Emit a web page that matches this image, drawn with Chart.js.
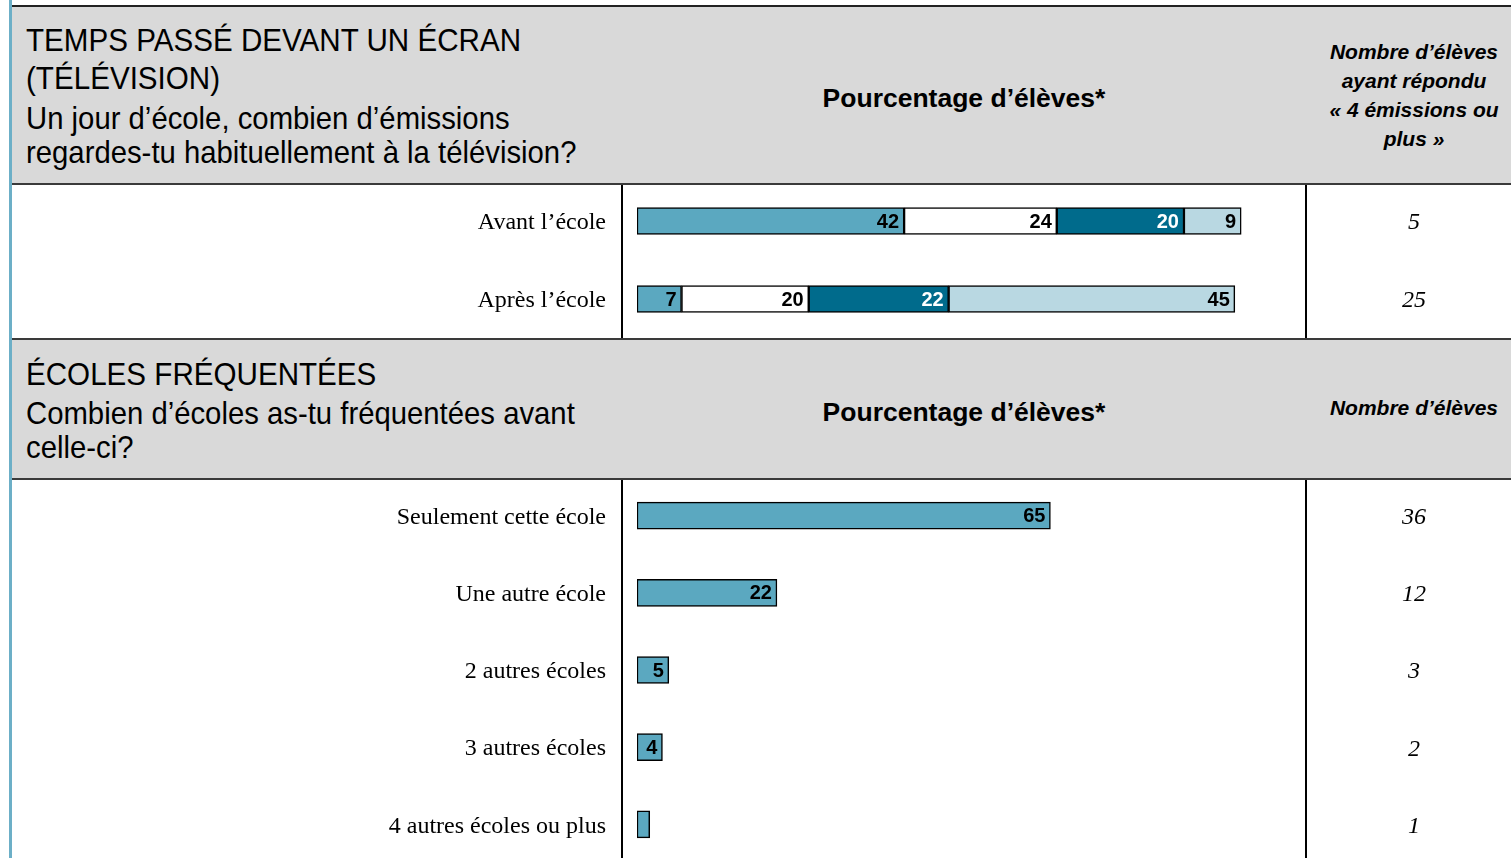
<!DOCTYPE html>
<html lang="fr">
<head>
<meta charset="utf-8">
<title>Temps passé devant un écran / écoles fréquentées</title>
<script src="https://cdn.jsdelivr.net/npm/chart.js@4/dist/chart.umd.min.js"></script>
<style>
  html, body { margin: 0; padding: 0; background: #fff; }
  body { width: 1511px; height: 858px; position: relative; overflow: hidden; font-family: "Liberation Sans", Arial, sans-serif; color: #000; }
  .abs { position: absolute; }
  .band { position: absolute; left: 12px; width: 1499px; background: #d9d9d9; }
  .hline { position: absolute; left: 12px; width: 1499px; height: 2px; background: #3a3a3a; }
  .vline { position: absolute; width: 2px; background: #000; }
  .title { position: absolute; left: 26px; font-size: 32px; line-height: 38px; white-space: nowrap; transform: scaleX(0.925); transform-origin: left center; }
  .question { position: absolute; left: 26px; font-size: 31.5px; line-height: 34px; white-space: nowrap; transform: scaleX(0.93); transform-origin: left center; }
  .pct { position: absolute; left: 764px; width: 400px; text-align: center; font-weight: bold; font-size: 26.5px; }
  .count { position: absolute; left: 1316px; width: 196px; text-align: center; font-weight: bold; font-style: italic; font-size: 21px; line-height: 29px; }
  canvas { position: absolute; }
</style>
</head>
<body>
<div class="abs" style="left:9px;top:0;width:3px;height:858px;background:#6cafc7"></div>
<div class="hline" style="top:5px;height:2px;background:#222"></div>

<!-- section 1 header -->
<div class="band" style="top:7px;height:176px"></div>
<div class="hline" style="top:183px"></div>
<div class="title" style="top:21px">TEMPS PASSÉ DEVANT UN ÉCRAN<br>(TÉLÉVISION)</div>
<div class="question" style="top:101px">Un jour d’école, combien d’émissions<br>regardes-tu habituellement à la télévision?</div>
<div class="pct" style="top:83px">Pourcentage d’élèves*</div>
<div class="count" style="top:37px">Nombre d’élèves<br>ayant répondu<br>« 4 émissions ou<br>plus »</div>
<div class="vline" style="left:621px;top:185px;height:154px"></div>
<div class="vline" style="left:1305px;top:185px;height:154px"></div>

<!-- section 2 header -->
<div class="band" style="top:340px;height:138px"></div>
<div class="hline" style="top:338px;height:2px;background:#3a3a3a"></div>
<div class="hline" style="top:478px"></div>
<div class="title" style="top:355px">ÉCOLES FRÉQUENTÉES</div>
<div class="question" style="top:396px">Combien d’écoles as-tu fréquentées avant<br>celle-ci?</div>
<div class="pct" style="top:397px">Pourcentage d’élèves*</div>
<div class="count" style="top:393px">Nombre d’élèves</div>
<div class="vline" style="left:621px;top:480px;height:378px"></div>
<div class="vline" style="left:1305px;top:480px;height:378px"></div>

<canvas id="tvChart" style="left:12px;top:182px"></canvas>
<canvas id="schoolChart" style="left:12px;top:477px"></canvas>

<script>
// TV viewing, school day
const tvMoments = ["Avant l’école", "Après l’école"];
const tvNone = [42, 7];
const tvOne = [24, 20];
const tvTwoThree = [20, 22];
const tvFourPlus = [9, 45];
const tvFourPlusCounts = [5, 25];

// schools attended before this one
const schoolLabels = ["Seulement cette école", "Une autre école", "2 autres écoles", "3 autres écoles", "4 autres écoles ou plus"];
const schoolPct = [65, 22, 5, 4, 2];
const schoolCounts = [36, 12, 3, 2, 1];

const colLight = "#5ba8c0";
const colDark = "#006b8c";
const colPale = "#b9d8e2";

// writes each value right-aligned inside the end of its bar
const barValues = {
  id: "barValues",
  afterDatasetsDraw(chart) {
    const ctx = chart.ctx;
    ctx.save();
    ctx.font = 'bold 20px "Liberation Sans", Arial, sans-serif';
    ctx.textAlign = "right";
    ctx.textBaseline = "middle";
    chart.data.datasets.forEach((ds, i) => {
      chart.getDatasetMeta(i).data.forEach((bar, j) => {
        const v = ds.data[j];
        if (v < 3) return;
        ctx.fillStyle = ds.labelColor || "#000";
        ctx.fillText(String(v), bar.x - 5, bar.y + 1);
      });
    });
    ctx.restore();
  }
};

// tick padding would otherwise add to the vertical padding of the axis
function fixWidth(w) {
  return function (scale) {
    scale.width = w;
    scale.paddingTop = 0;
    scale.paddingBottom = 0;
  };
}

function makeChart(id, labels, datasets, counts, height) {
  const canvas = document.getElementById(id);
  canvas.width = 1499;
  canvas.height = height;
  canvas.style.width = "1499px";
  canvas.style.height = height + "px";
  return new Chart(canvas, {
    type: "bar",
    data: { labels, datasets },
    plugins: [barValues],
    options: {
      indexAxis: "y",
      responsive: false,
      animation: false,
      layout: { padding: 0 },
      plugins: { legend: { display: false }, tooltip: { enabled: false } },
      datasets: { bar: { barThickness: 27, borderColor: "#000", borderWidth: 1.5, borderSkipped: false } },
      scales: {
        x: { display: false, stacked: true, min: 0, max: 100 },
        y: {
          stacked: true,
          grid: { display: false, drawTicks: false },
          border: { display: false },
          ticks: { autoSkip: false, padding: 31, labelOffset: 2, color: "#000", font: { family: '"Liberation Serif", "Times New Roman", serif', size: 24 } },
          afterFit: fixWidth(625)
        },
        counts: {
          type: "category",
          position: "right",
          labels: counts.map(String),
          offset: true,
          grid: { display: false, drawTicks: false },
          border: { display: false },
          ticks: { autoSkip: false, padding: 129, labelOffset: 2, crossAlign: "center", color: "#000", font: { family: '"Liberation Serif", "Times New Roman", serif', size: 24, style: "italic" } },
          afterFit: fixWidth(238)
        }
      }
    }
  });
}

makeChart("tvChart", tvMoments, [
  { data: tvNone, backgroundColor: colLight },
  { data: tvOne, backgroundColor: "#ffffff" },
  { data: tvTwoThree, backgroundColor: colDark, labelColor: "#ffffff" },
  { data: tvFourPlus, backgroundColor: colPale }
], tvFourPlusCounts, 156);

makeChart("schoolChart", schoolLabels, [
  { data: schoolPct, backgroundColor: colLight }
], schoolCounts, 386);
</script>
</body>
</html>
